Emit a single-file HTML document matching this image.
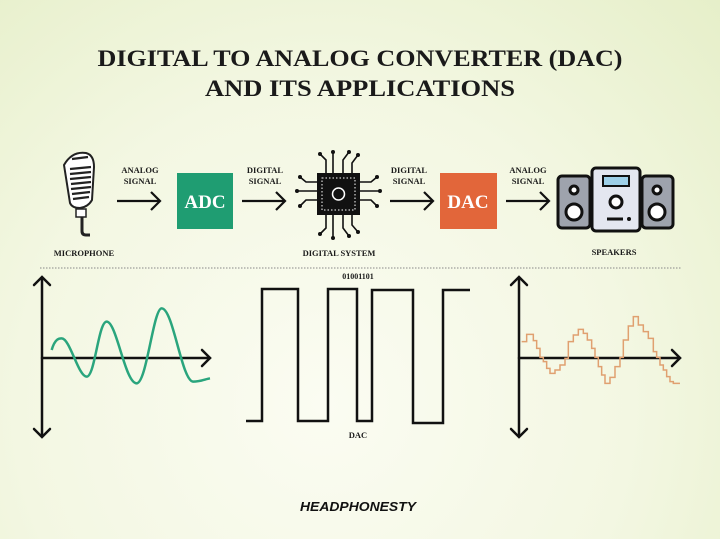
<!DOCTYPE html>
<html><head><meta charset="utf-8"><style>
html,body{margin:0;padding:0;width:720px;height:539px;overflow:hidden}
body{background:radial-gradient(ellipse at 45% 75%,#fbfcf2 0%,#f3f7e2 55%,#e6efc9 100%)}
svg{display:block}
.t{font-family:"Liberation Serif",serif;font-weight:bold;fill:#1a1a1a}
</style></head><body>
<svg width="720" height="539" viewBox="0 0 720 539" xmlns="http://www.w3.org/2000/svg">
<text class="t" x="360" y="66" font-size="23" text-anchor="middle" textLength="525" lengthAdjust="spacingAndGlyphs">DIGITAL TO ANALOG CONVERTER (DAC)</text>
<text class="t" x="360" y="96" font-size="23" text-anchor="middle" textLength="310" lengthAdjust="spacingAndGlyphs">AND ITS APPLICATIONS</text>

<!-- microphone -->
<g transform="translate(50,145)">
 <path d="M14,20 Q22,6 36,8 Q44,10 44,22 L42,55 Q38,62 30,63 Q22,63 20,58 Z" fill="#fff" stroke="#222" stroke-width="2"/>
 <g stroke="#222" stroke-width="2.2">
  <line x1="20" y1="24" x2="41" y2="22"/><line x1="20" y1="29" x2="41" y2="27"/><line x1="20" y1="34" x2="41" y2="32"/><line x1="21" y1="39" x2="41" y2="37"/><line x1="21" y1="44" x2="41" y2="42"/><line x1="22" y1="49" x2="40" y2="47"/><line x1="23" y1="54" x2="39" y2="52"/>
  <line x1="22" y1="14" x2="38" y2="12"/>
 </g>
 <rect x="26" y="64" width="10" height="8" fill="#fff" stroke="#222" stroke-width="1.5"/>
 <path d="M32,72 V86 Q32,90 36,90 H40" fill="none" stroke="#222" stroke-width="3"/>
</g>
<text class="t" x="84" y="256" font-size="8.5" text-anchor="middle">MICROPHONE</text>

<!-- arrows -->
<g stroke="#111" stroke-width="2.2" fill="none">
 <line x1="117" y1="201" x2="159" y2="201"/><path d="M151,192 L160,201 L151,210"/>
 <line x1="242" y1="201" x2="284" y2="201"/><path d="M276,192 L285,201 L276,210"/>
 <line x1="390" y1="201" x2="432" y2="201"/><path d="M424,192 L433,201 L424,210"/>
 <line x1="506" y1="201" x2="548" y2="201"/><path d="M540,192 L549,201 L540,210"/>
</g>
<g class="t" font-size="8.5" text-anchor="middle">
 <text x="140" y="173">ANALOG</text><text x="140" y="184">SIGNAL</text>
 <text x="265" y="173">DIGITAL</text><text x="265" y="184">SIGNAL</text>
 <text x="409" y="173">DIGITAL</text><text x="409" y="184">SIGNAL</text>
 <text x="528" y="173">ANALOG</text><text x="528" y="184">SIGNAL</text>
</g>

<rect x="177" y="173" width="56" height="56" fill="#1f9d72"/>
<text x="205" y="208" font-family="Liberation Serif,serif" font-weight="bold" font-size="19" fill="#fff" text-anchor="middle">ADC</text>
<rect x="440" y="173" width="57" height="56" fill="#e2663a"/>
<text x="468" y="208" font-family="Liberation Serif,serif" font-weight="bold" font-size="19" fill="#fff" text-anchor="middle">DAC</text>

<!-- chip -->
<g stroke="#111" stroke-width="1.6" fill="none">
 <path d="M326,173 V160 L320,154 M333,173 V152 M343,173 V160 L349,152 M352,173 V163 L358,155"/>
 <path d="M326,215 V228 L320,234 M333,215 V238 M343,215 V228 L349,236 M352,215 V225 L358,232"/>
 <path d="M317,182 H306 L300,177 M317,191 H297 M317,200 H306 L300,206"/>
 <path d="M360,182 H371 L377,177 M360,191 H380 M360,200 H371 L377,206"/>
</g>
<g fill="#111">
 <circle cx="320" cy="154" r="2"/><circle cx="333" cy="152" r="2"/><circle cx="349" cy="152" r="2"/><circle cx="358" cy="155" r="2"/>
 <circle cx="320" cy="234" r="2"/><circle cx="333" cy="238" r="2"/><circle cx="349" cy="236" r="2"/><circle cx="358" cy="232" r="2"/>
 <circle cx="300" cy="177" r="2"/><circle cx="297" cy="191" r="2"/><circle cx="300" cy="206" r="2"/>
 <circle cx="377" cy="177" r="2"/><circle cx="380" cy="191" r="2"/><circle cx="377" cy="206" r="2"/>
</g>
<rect x="317" y="173" width="43" height="42" fill="#111"/>
<rect x="322" y="178" width="33" height="32" fill="none" stroke="#fff" stroke-width="1" stroke-dasharray="1.5,2"/>
<circle cx="338.5" cy="194" r="6" fill="none" stroke="#fff" stroke-width="1.5"/>
<text class="t" x="339" y="256" font-size="8.5" text-anchor="middle">DIGITAL SYSTEM</text>

<!-- speakers -->
<g stroke="#111" stroke-width="3">
 <rect x="558" y="176" width="32" height="52" rx="4" fill="#9ea3ad"/>
 <rect x="642" y="176" width="31" height="52" rx="4" fill="#9ea3ad"/>
 <rect x="592" y="168" width="48" height="63" rx="4" fill="#e4e7f0"/>
 <circle cx="574" cy="190" r="4" fill="#fff"/><circle cx="574" cy="212" r="8" fill="#fff"/>
 <circle cx="657" cy="190" r="4" fill="#fff"/><circle cx="657" cy="212" r="8" fill="#fff"/>
 <rect x="603" y="176" width="26" height="10" fill="#9ed0e8" stroke-width="2"/>
 <circle cx="616" cy="202" r="6" fill="#fff"/>
 <line x1="607" y1="219" x2="623" y2="219"/>
</g>
<circle cx="629" cy="219" r="2" fill="#111"/>
<text class="t" x="614" y="255" font-size="8.5" text-anchor="middle">SPEAKERS</text>

<line x1="40" y1="268" x2="682" y2="268" stroke="#888" stroke-width="1" stroke-dasharray="1.5,1.5"/>

<!-- left axes -->
<g stroke="#111" stroke-width="2.5" fill="none" stroke-linecap="round">
 <line x1="42" y1="278" x2="42" y2="436"/><path d="M34,285 L42,277 L50,285"/><path d="M34,429 L42,437 L50,429"/>
 <line x1="42" y1="358" x2="210" y2="358"/><path d="M202,350 L210,358 L202,366"/>
</g>
<path transform="translate(30,270) scale(0.3333)" d="M65,240 C75,205 88,205 95,205 C120,205 145,320 170,320 C195,320 205,155 230,155 C260,155 285,340 320,340 C350,340 370,115 395,115 C430,115 455,335 490,335 C510,335 525,328 540,325" fill="none" stroke="#2aa57d" stroke-width="7.5"/>

<!-- square wave -->
<text class="t" x="358" y="279" font-size="8" text-anchor="middle">01001101</text>
<path d="M246,421 H262 V289 H298 V421 H328 V289 H357 V421 H372 V290 H413 V423 H443 V290 H470" fill="none" stroke="#111" stroke-width="2.5"/>
<text class="t" x="358" y="438" font-size="8.5" text-anchor="middle">DAC</text>

<!-- right axes -->
<g stroke="#111" stroke-width="2.5" fill="none" stroke-linecap="round">
 <line x1="519" y1="278" x2="519" y2="436"/><path d="M511,285 L519,277 L527,285"/><path d="M511,429 L519,437 L527,429"/>
 <line x1="519" y1="358" x2="680" y2="358"/><path d="M672,350 L680,358 L672,366"/>
</g>
<path transform="translate(500,270) scale(0.3333)" d="M65,215 H80 V193 H100 V212 H110 V235 H120 V262 H130 V275 H140 V295 H150 V310 H165 V300 H180 V285 H195 V265 H205 V215 H220 V195 H235 V178 H250 V190 H262 V210 H275 V235 H285 V262 H295 V290 H305 V315 H315 V340 H330 V322 H345 V290 H360 V262 H370 V210 H385 V168 H400 V140 H415 V165 H430 V185 H445 V205 H460 V245 H470 V262 H480 V285 H490 V300 H500 V320 H510 V335 H520 V340 H540" fill="none" stroke="#e0a070" stroke-width="4.5"/>

<text x="358" y="511" font-family="Liberation Sans,sans-serif" font-weight="bold" font-style="italic" font-size="13" fill="#111" text-anchor="middle" textLength="116" lengthAdjust="spacingAndGlyphs">HEADPHONESTY</text>
</svg>
</body></html>
